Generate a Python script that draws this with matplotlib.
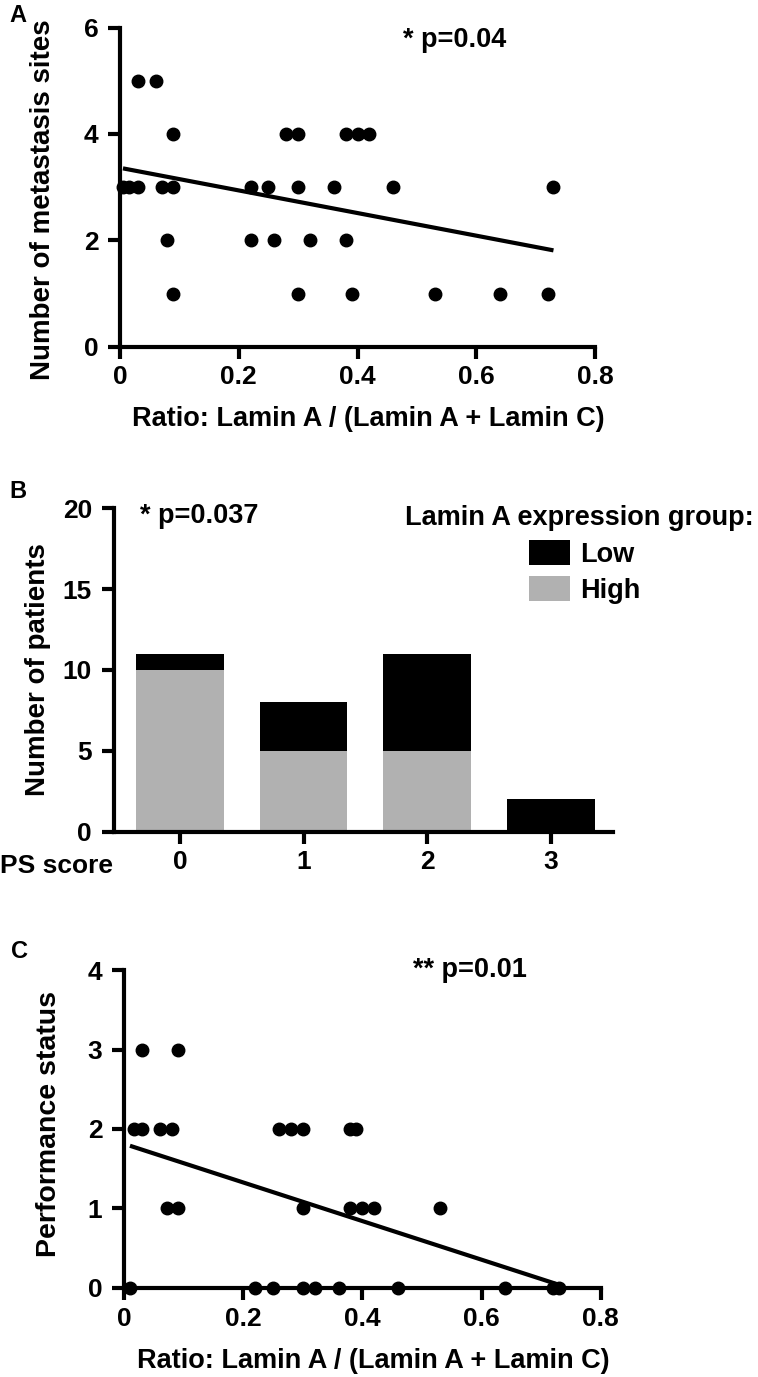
import matplotlib
matplotlib.use("Agg")
import matplotlib.pyplot as plt
from matplotlib.patches import Patch
import numpy as np

plt.rcParams['font.family'] = ['Liberation Sans', 'DejaVu Sans']
plt.rcParams['font.weight'] = 'bold'

# Panel A: lamin ratio vs number of metastasis sites
ratio_a = [0.03, 0.06,
           0.09, 0.28, 0.30, 0.38, 0.40, 0.42,
           0.005, 0.015, 0.03, 0.07, 0.09, 0.22, 0.25, 0.30, 0.36, 0.46, 0.73,
           0.08, 0.22, 0.26, 0.32, 0.38,
           0.09, 0.30, 0.39, 0.53, 0.64, 0.72]
sites_a = [5, 5,
           4, 4, 4, 4, 4, 4,
           3, 3, 3, 3, 3, 3, 3, 3, 3, 3, 3,
           2, 2, 2, 2, 2,
           1, 1, 1, 1, 1, 1]

# Panel B: PS score groups
ps_scores = ['0', '1', '2', '3']
high_counts = [10, 5, 5, 0]
low_counts = [1, 3, 6, 2]

# Panel C: lamin ratio vs performance status
ratio_c = [0.031, 0.091,
           0.016, 0.031, 0.06, 0.08, 0.26, 0.28, 0.30, 0.38, 0.39,
           0.072, 0.091, 0.30, 0.38, 0.40, 0.42, 0.53,
           0.01, 0.22, 0.25, 0.30, 0.32, 0.36, 0.46, 0.64, 0.72, 0.73]
perf_c = [3, 3,
          2, 2, 2, 2, 2, 2, 2, 2, 2,
          1, 1, 1, 1, 1, 1, 1,
          0, 0, 0, 0, 0, 0, 0, 0, 0, 0]

LW = 3.0
FS_TICK = 19
FS_LAB = 19.5
FS_YLAB = 20
GREY = '#b1b1b1'


def prism_axes(ax):
    for s in ['top', 'right']:
        ax.spines[s].set_visible(False)
    for s in ['left', 'bottom']:
        ax.spines[s].set_linewidth(LW)
    ax.tick_params(width=LW, length=8.5, labelsize=FS_TICK)
    ax.tick_params(axis='x', pad=5)
    ax.tick_params(axis='y', pad=7)
    for lab in ax.get_xticklabels() + ax.get_yticklabels():
        lab.set_fontweight('bold')


def scatter_fit(ax, x, y):
    ax.plot(x, y, 'o', color='black', markersize=9, clip_on=False, zorder=3)
    k, b = np.polyfit(x, y, 1)
    xs = np.array([min(x), max(x)])
    ax.plot(xs, k * xs + b, color='black', lw=3, clip_on=False,
            solid_capstyle='butt')


fig = plt.figure(figsize=(7.58, 13.77), dpi=100)

# --- A ---
axA = fig.add_axes([0.1583, 0.7482, 0.6267, 0.2318])
scatter_fit(axA, ratio_a, sites_a)
axA.set_xlim(0, 0.8)
axA.set_ylim(0, 6)
axA.set_xticks([0, 0.2, 0.4, 0.6, 0.8])
axA.set_xticklabels(['0', '0.2', '0.4', '0.6', '0.8'])
axA.set_yticks([0, 2, 4, 6])
prism_axes(axA)
axA.set_xlabel('Ratio: Lamin A / (Lamin A + Lamin C)', fontsize=FS_LAB, fontweight='bold')
axA.xaxis.set_label_coords(0.522, -0.185)
axA.set_ylabel('Number of metastasis sites', fontsize=FS_YLAB, fontweight='bold')
axA.yaxis.set_label_coords(-0.135, 0.46)
axA.text(0.477, 5.77, '* p=0.04', fontsize=FS_LAB, fontweight='bold', va='center')
fig.text(0.012, 0.997, 'A', fontsize=17, fontweight='bold', va='top')

# --- B ---
axB = fig.add_axes([0.1499, 0.396, 0.6587, 0.2349])
xpos = np.arange(len(ps_scores))
axB.bar(xpos, high_counts, width=0.71, color=GREY, label='High')
axB.bar(xpos, low_counts, width=0.71, bottom=high_counts, color='black', label='Low')
axB.set_xlim(-0.535, 3.5)
axB.set_ylim(0, 20)
axB.set_xticks(xpos)
axB.set_xticklabels(ps_scores)
axB.set_yticks([0, 5, 10, 15, 20])
prism_axes(axB)
axB.set_ylabel('Number of patients', fontsize=FS_YLAB, fontweight='bold')
axB.yaxis.set_label_coords(-0.125, 0.5)
axB.text(-0.32, 19.5, '* p=0.037', fontsize=FS_LAB, fontweight='bold', va='center')
fig.text(0.0, 1 - 866 / 1377, 'PS score', fontsize=FS_TICK, fontweight='bold', va='center')
fig.text(754 / 758, 1 - 518 / 1377, 'Lamin A expression group:', fontsize=FS_LAB,
         fontweight='bold', ha='right', va='center')
handles = [Patch(facecolor='black'), Patch(facecolor=GREY)]
leg = fig.legend(handles, ['Low', 'High'], loc='upper left',
                 bbox_to_anchor=(529 / 758, 1 - 540 / 1377), frameon=False,
                 fontsize=FS_LAB, handlelength=1.5, handleheight=1.05,
                 handletextpad=0.4, labelspacing=0.3, borderpad=0, borderaxespad=0)
for t in leg.get_texts():
    t.set_fontweight('bold')
fig.text(0.012, 1 - 480 / 1377, 'B', fontsize=17, fontweight='bold', va='top')

# --- C ---
axC = fig.add_axes([0.1636, 0.0648, 0.6289, 0.2307])
scatter_fit(axC, ratio_c, perf_c)
axC.set_xlim(0, 0.8)
axC.set_ylim(0, 4)
axC.set_xticks([0, 0.2, 0.4, 0.6, 0.8])
axC.set_xticklabels(['0', '0.2', '0.4', '0.6', '0.8'])
axC.set_yticks([0, 1, 2, 3, 4])
prism_axes(axC)
axC.set_xlabel('Ratio: Lamin A / (Lamin A + Lamin C)', fontsize=FS_LAB, fontweight='bold')
axC.xaxis.set_label_coords(0.524, -0.19)
axC.set_ylabel('Performance status', fontsize=20.5, fontweight='bold')
axC.yaxis.set_label_coords(-0.130, 0.515)
axC.text(0.485, 4.0, '** p=0.01', fontsize=FS_LAB, fontweight='bold', va='center')
fig.text(0.015, 1 - 940 / 1377, 'C', fontsize=17, fontweight='bold', va='top')

fig.savefig('out.png', dpi=100)
